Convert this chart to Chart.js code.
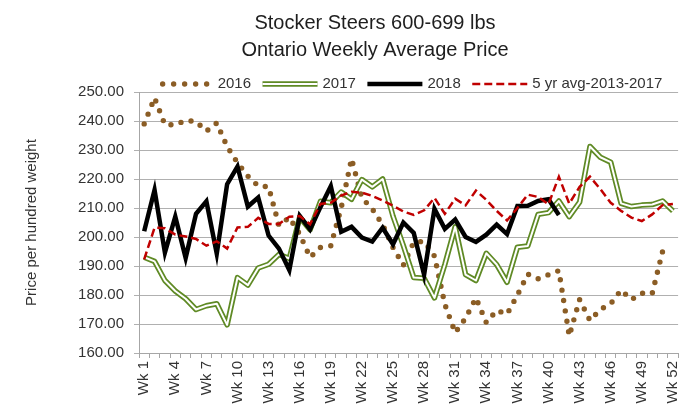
<!DOCTYPE html>
<html lang="en">
<head>
    <meta charset="UTF-8">
    <title>Stocker Steers 600-699 lbs - Ontario Weekly Average Price</title>
    <script src="https://cdn.jsdelivr.net/npm/chart.js"></script>
    <style>
        html, body { margin: 0; padding: 0; background: #fff; }
        #wrap { width: 694px; height: 416px; }
    </style>
</head>
<body>
<div id="wrap"><canvas id="chart" width="694" height="416"></canvas></div>
<script>
    // categories
    const weeks = ['Wk 1', 'Wk 2', 'Wk 3', 'Wk 4', 'Wk 5', 'Wk 6', 'Wk 7', 'Wk 8', 'Wk 9', 'Wk 10',
        'Wk 11', 'Wk 12', 'Wk 13', 'Wk 14', 'Wk 15', 'Wk 16', 'Wk 17', 'Wk 18', 'Wk 19', 'Wk 20',
        'Wk 21', 'Wk 22', 'Wk 23', 'Wk 24', 'Wk 25', 'Wk 26', 'Wk 27', 'Wk 28', 'Wk 29', 'Wk 30',
        'Wk 31', 'Wk 32', 'Wk 33', 'Wk 34', 'Wk 35', 'Wk 36', 'Wk 37', 'Wk 38', 'Wk 39', 'Wk 40',
        'Wk 41', 'Wk 42', 'Wk 43', 'Wk 44', 'Wk 45', 'Wk 46', 'Wk 47', 'Wk 48', 'Wk 49', 'Wk 50',
        'Wk 51', 'Wk 52'];

    // series values ($ per hundred weight)
    const price2016 = [239.0, 248.0, 238.7, 238.7, 240.2, 239.8, 236.5, 239.3, 231.2, 225.6,
        221.0, 217.6, 217.3, 204.0, 206.7, 201.0, 193.0, 196.4, 197.0, 210.0,
        227.0, 213.5, 209.7, 204.2, 196.4, 190.3, 198.2, 198.5, 193.4, 176.8,
        167.0, 172.0, 179.0, 170.5, 174.7, 173.4, 180.0, 187.2, 185.6, 187.0,
        188.4, 165.9, 178.4, 171.2, 175.0, 177.0, 181.7, 178.4, 180.6, 180.5,
        195.0, null];
    const price2017 = [193.0, 191.6, 185.0, 181.4, 178.7, 175.0, 176.3, 177.0, 169.7, 186.0,
        183.4, 189.3, 190.6, 194.0, 192.6, 206.8, 202.5, 212.3, 211.8, 215.5,
        213.0, 219.8, 217.3, 220.0, 207.2, 197.0, 186.0, 185.8, 179.0, 190.5,
        203.5, 187.0, 185.0, 194.4, 190.5, 184.4, 196.5, 196.9, 207.8, 208.4,
        212.4, 207.0, 212.0, 231.2, 227.5, 225.8, 211.6, 210.5, 211.0, 211.2,
        212.4, 209.0];
    const price2018 = [202.0, 216.2, 194.6, 207.0, 192.8, 208.0, 212.3, 194.3, 218.2, 224.3,
        210.5, 213.6, 200.5, 196.0, 188.6, 207.3, 202.6, 210.3, 217.5, 201.8,
        203.5, 199.8, 198.4, 203.2, 197.5, 205.0, 201.4, 187.0, 209.7, 202.8,
        206.0, 200.0, 198.3, 200.8, 204.3, 201.0, 210.7, 210.8, 212.4, 213.0,
        207.6, null, null, null, null, null, null, null, null, null,
        null, null];
    const avg5yr = [192.3, 203.2, 203.0, 200.8, 200.2, 199.3, 197.0, 198.5, 196.0, 203.3,
        203.5, 206.6, 204.5, 204.5, 207.0, 207.2, 204.4, 211.4, 211.8, 214.3,
        215.6, 215.3, 214.2, 212.6, 210.8, 208.8, 207.6, 209.2, 213.5, 208.0,
        213.2, 210.9, 216.0, 212.8, 209.0, 205.7, 210.0, 214.6, 213.8, 211.3,
        220.8, 211.5, 217.3, 220.8, 216.5, 211.8, 209.0, 206.7, 205.5, 207.8,
        211.0, 211.4];

    // axis range and texts
    const yMin = 160, yMax = 250, yStep = 10;
    const titleLines = ['Stocker Steers 600-699 lbs', 'Ontario Weekly Average Price'];
    const yTitle = 'Price per hundred weight';
    const seriesNames = ['2016', '2017', '2018', '5 yr avg-2013-2017'];

    const BROWN = '#8b5d25', GREEN = '#5f8a25', RED = '#c00000', BLACK = '#000000';
    const FONT = '"Liberation Sans", Arial, sans-serif';
    const TEXT = '#333333';

    // title + legend drawn the Excel way
    const headerPlugin = {
        id: 'header',
        afterDraw(chart) {
            const ctx = chart.ctx;
            ctx.save();
            ctx.fillStyle = '#1e1e1e';
            ctx.font = '20px ' + FONT;
            ctx.textAlign = 'center';
            ctx.textBaseline = 'middle';
            titleLines.forEach((t, i) => ctx.fillText(t, 375, 23 + i * 27));

            // legend row
            ctx.font = '15px ' + FONT;
            const swW = 55, gapT = 5, gapN = 11.5, ly = 84;
            const widths = seriesNames.map(s => ctx.measureText(s).width);
            const total = widths.reduce((a, w) => a + swW + gapT + w, 0) + gapN * (seriesNames.length - 1);
            let x = 410 - total / 2;
            seriesNames.forEach((name, i) => {
                ctx.save();
                if (i === 0) {
                    ctx.fillStyle = BROWN;
                    for (let k = 0; k < 5; k++) {
                        ctx.beginPath();
                        ctx.arc(x + 5 + k * 11, ly, 2.7, 0, Math.PI * 2);
                        ctx.fill();
                    }
                } else {
                    ctx.beginPath();
                    ctx.moveTo(x, ly);
                    ctx.lineTo(x + swW, ly);
                    if (i === 1) {
                        ctx.strokeStyle = GREEN; ctx.lineWidth = 5.5; ctx.stroke();
                        ctx.strokeStyle = '#fff'; ctx.lineWidth = 2; ctx.stroke();
                    } else if (i === 2) {
                        ctx.strokeStyle = BLACK; ctx.lineWidth = 4.5; ctx.stroke();
                    } else {
                        ctx.setLineDash([8, 4]);
                        ctx.strokeStyle = RED; ctx.lineWidth = 2.5; ctx.stroke();
                    }
                }
                ctx.restore();
                ctx.fillStyle = TEXT;
                ctx.textAlign = 'left';
                ctx.fillText(name, x + swW + gapT, ly);
                x += swW + gapT + widths[i] + gapN;
            });
            ctx.restore();
        }
    };

    new Chart(document.getElementById('chart'), {
        type: 'line',
        data: {
            labels: weeks,
            datasets: [
                {
                    label: seriesNames[3], data: avg5yr, order: 0,
                    borderColor: RED, borderWidth: 2.5, borderDash: [8, 4]
                },
                {
                    label: seriesNames[2], data: price2018, order: 1,
                    borderColor: BLACK, borderWidth: 4.5
                },
                {
                    label: seriesNames[1] + ' inner', data: price2017, order: 2,
                    borderColor: '#ffffff', borderWidth: 2, borderJoinStyle: 'round'
                },
                {
                    label: seriesNames[1], data: price2017, order: 3,
                    borderColor: GREEN, borderWidth: 5.5, borderJoinStyle: 'round'
                },
                {
                    label: seriesNames[0], data: price2016, order: 4,
                    borderColor: BROWN, borderWidth: 5.4, borderDash: [0, 10.5],
                    borderCapStyle: 'round', borderJoinStyle: 'round'
                }
            ]
        },
        options: {
            responsive: false,
            animation: false,
            events: [],
            layout: { padding: { top: 92, right: 8, left: 0, bottom: 0 } },
            elements: {
                point: { radius: 0 },
                line: { tension: 0, fill: false }
            },
            plugins: {
                legend: { display: false },
                title: { display: false },
                tooltip: { enabled: false }
            },
            scales: {
                x: {
                    offset: true,
                    afterFit: s => { s.height = 63; },
                    grid: {
                        offset: true, drawOnChartArea: false, drawTicks: true,
                        tickLength: 5, color: '#a6a6a6'
                    },
                    border: { color: '#a6a6a6' },
                    ticks: {
                        autoSkip: false, minRotation: 90, maxRotation: 90, padding: 3,
                        color: TEXT, font: { family: FONT, size: 15 },
                        callback: (v, i) => (i % 3 === 0 ? weeks[i] : '')
                    }
                },
                y: {
                    min: yMin, max: yMax,
                    afterFit: s => { s.width = 139; },
                    grid: { color: '#b0b0b0', tickLength: 5 },
                    border: { color: '#a6a6a6' },
                    ticks: {
                        stepSize: yStep, padding: 10,
                        color: TEXT, font: { family: FONT, size: 15 },
                        callback: v => v.toFixed(2)
                    },
                    title: {
                        display: true, text: yTitle, color: TEXT,
                        font: { family: FONT, size: 15 },
                        padding: { top: 23, bottom: 0 }
                    }
                }
            }
        },
        plugins: [headerPlugin]
    });
</script>
</body>
</html>
